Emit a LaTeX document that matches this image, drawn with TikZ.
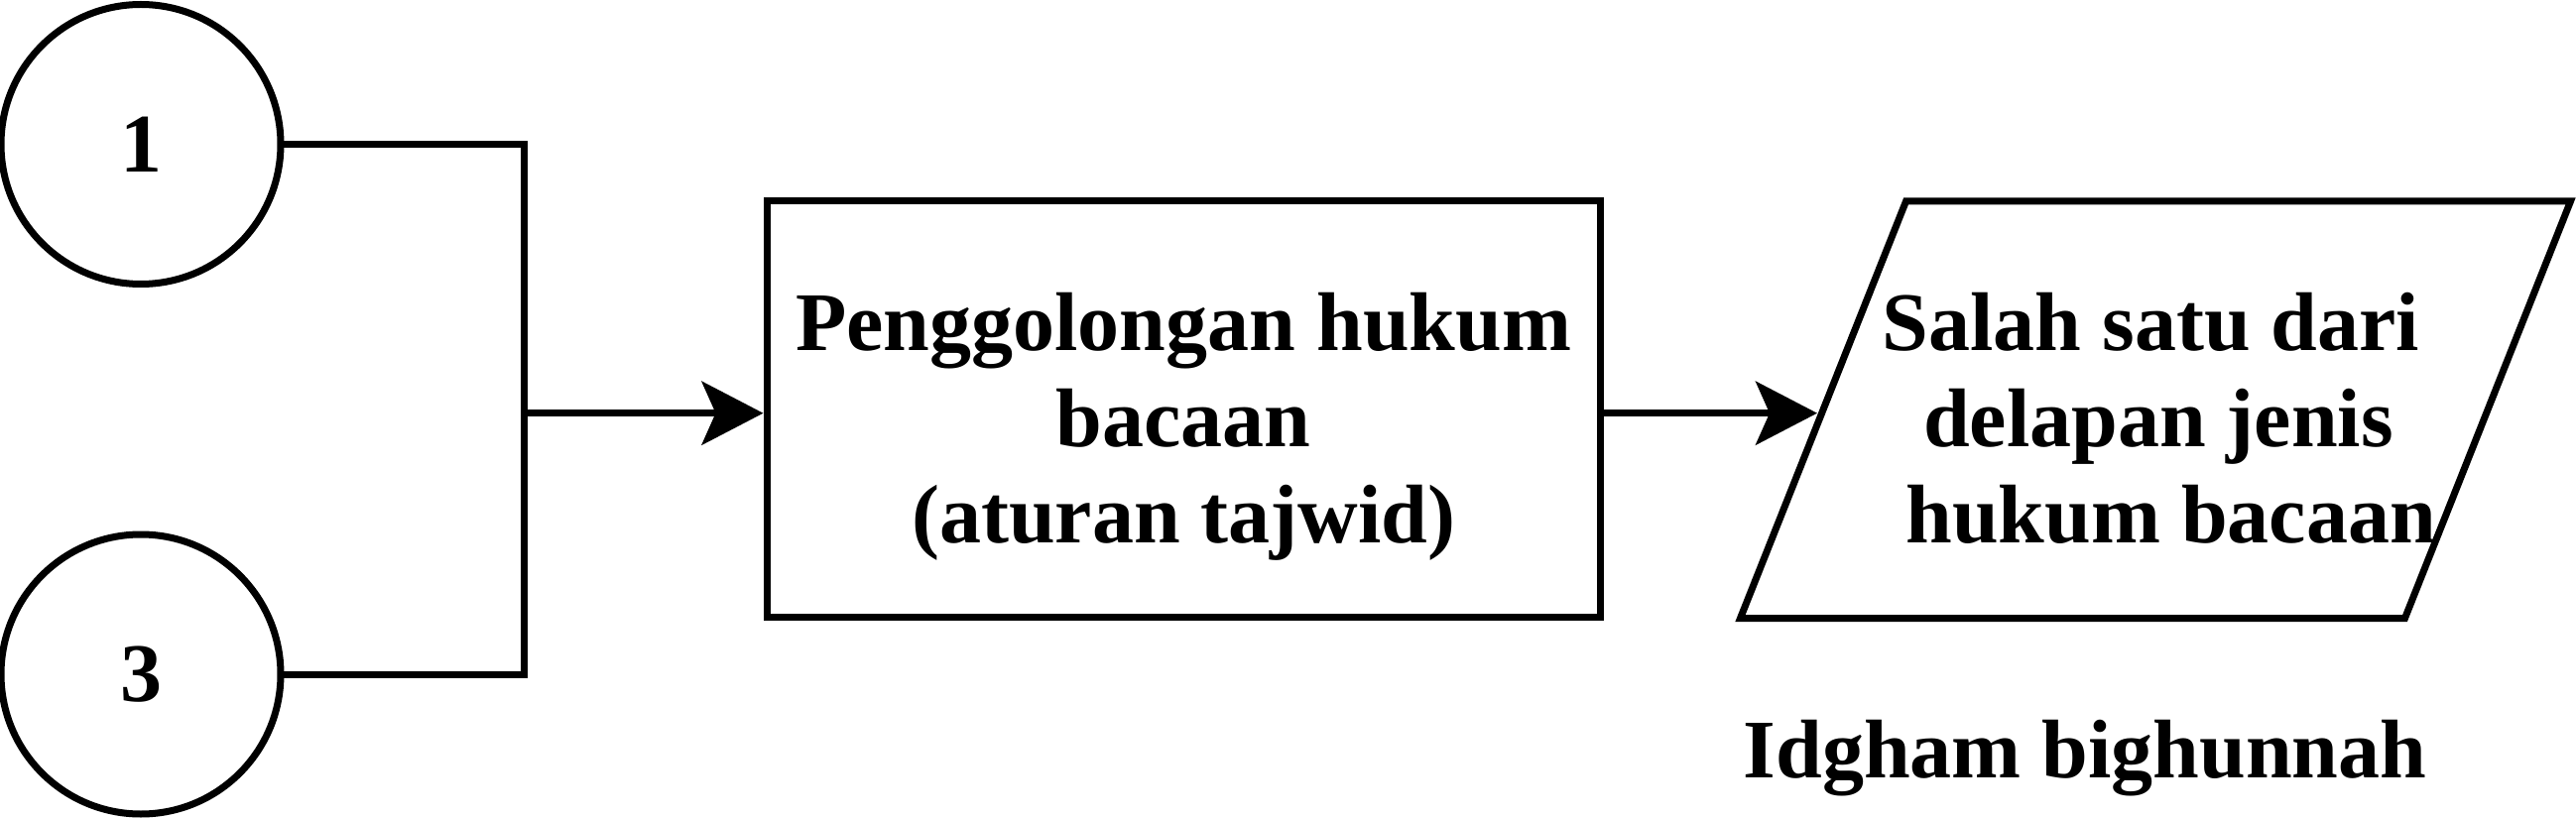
\documentclass[tikz,border=0pt]{standalone}
\usepackage{fontspec}
\setmainfont{Liberation Serif}
\usetikzlibrary{arrows.meta,calc}
\tikzset{
  ln/.style={line width=7pt, line join=miter},
  arr/.style={ln, -{Stealth[length=62pt,width=64pt,inset=14pt]}},
  txt/.style={font=\fontsize{84}{97}\selectfont\bfseries, inner sep=0pt, align=center},
  circ/.style={ln, draw, circle, minimum size=282pt, inner sep=0pt, outer sep=0pt, font=\fontsize{84}{97}\selectfont\bfseries},
  boxx/.style={ln, draw, rectangle, minimum width=840.5pt, minimum height=420pt, inner sep=0pt, outer sep=3.5pt}
}
\begin{document}
\begin{tikzpicture}[x=1pt,y=-1pt]
\useasboundingbox (0,0) rectangle (2597,826);
\node[circ] (c1) at (142,145.5) {1};
\node[circ] (c3) at (142,680) {3};
\coordinate (j) at (528.5,416.7);
\node[boxx] (r) at (1193.25,412.7) {};
\node[txt] (rt) at (1193.25,430) {Penggolongan hukum\\bacaan\\(aturan tajwid)};
% parallelogram
\coordinate (p1) at (1921.5,203);
\coordinate (p2) at (2591.5,203);
\coordinate (p3) at (2424.5,623.5);
\coordinate (p4) at (1754.5,623.5);
\draw[ln] (p1) -- (p2) -- (p3) -- (p4) -- cycle;
\coordinate (pl) at (1832,416.7);
\node[txt] (pt) at (2176,422) {Salah satu dari\hspace*{0.18em}\\delapan jenis\\\hspace*{0.3em}hukum bacaan};
\node[txt, anchor=base] (lab) at (2102,784) {Idgham bighunnah};
\draw[ln] (c1.east) -| (j);
\draw[ln] (c3.east) -| (j);
\draw[arr] (j) -- (j -| r.west);
\draw[arr] (j -| r.east) -- (pl);
\end{tikzpicture}
\end{document}
